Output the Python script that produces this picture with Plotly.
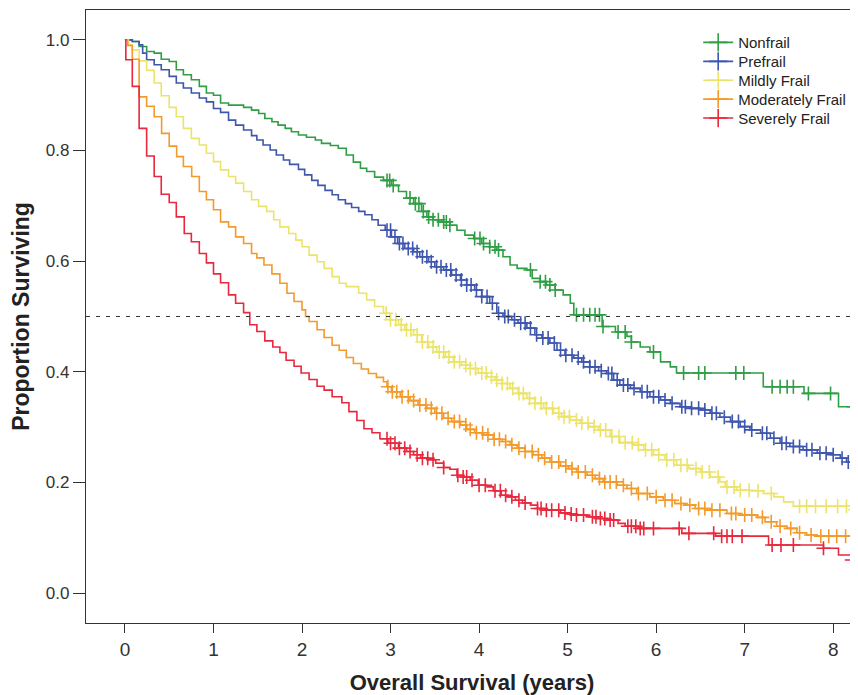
import numpy as np
import plotly.graph_objects as go

# ---------------- data ----------------
groups = ["Nonfrail", "Prefrail", "Mildly Frail", "Moderately Frail", "Severely Frail"]
colors = ["#2f9e44", "#3e56ad", "#ece46a", "#f39a2b", "#e8283c"]

nonfrail_t = [0, 0.083, 0.16, 0.245, 0.33, 0.41, 0.50, 0.58, 0.66, 0.75, 0.84, 0.92, 1.0, 1.08, 1.17, 1.34,
              1.43, 1.51, 1.58, 1.66, 1.73, 1.81, 1.88, 1.96, 2.05, 2.15, 2.22, 2.32, 2.41, 2.50, 2.58, 2.66,
              2.73, 2.82, 2.92, 3.01, 3.09, 3.18, 3.26, 3.35, 3.41, 3.48, 3.58, 3.67, 3.75, 3.84, 3.94, 4.03,
              4.12, 4.20, 4.27, 4.35, 4.43, 4.54, 4.60, 4.69, 4.76, 4.86, 4.95, 5.03, 5.07, 5.39, 5.54, 5.67,
              5.72, 5.82, 5.93, 6.05, 6.16, 6.23, 7.21, 7.67, 8.06, 8.40]
nonfrail_s = [1.0, 0.997, 0.988, 0.979, 0.976, 0.965, 0.961, 0.946, 0.937, 0.928, 0.916, 0.904, 0.900, 0.886,
              0.882, 0.878, 0.873, 0.867, 0.858, 0.852, 0.846, 0.840, 0.834, 0.828, 0.824, 0.819, 0.813, 0.809,
              0.804, 0.792, 0.779, 0.768, 0.762, 0.752, 0.746, 0.737, 0.726, 0.714, 0.704, 0.690, 0.680, 0.675,
              0.671, 0.665, 0.656, 0.647, 0.641, 0.632, 0.626, 0.620, 0.608, 0.593, 0.587, 0.584, 0.569, 0.563,
              0.557, 0.548, 0.539, 0.524, 0.503, 0.482, 0.472, 0.464, 0.454, 0.445, 0.436, 0.418, 0.409, 0.398,
              0.373, 0.361, 0.337, 0.337]
nonfrail_cens = [2.96, 2.99, 3.03, 3.22, 3.28, 3.32, 3.37, 3.43, 3.48, 3.54, 3.60, 3.63, 3.67, 3.95, 4.01, 4.05,
                 4.12, 4.18, 4.22, 4.58, 4.69, 4.75, 4.80, 4.86, 5.10, 5.18, 5.25, 5.31, 5.36, 5.40, 5.57, 5.65,
                 5.72, 5.97, 6.31, 6.48, 6.55, 6.90, 6.99, 7.31, 7.40, 7.48, 7.55, 7.72, 7.97, 8.23]

prefrail_t = [0, 0.083, 0.16, 0.20, 0.245, 0.33, 0.41, 0.50, 0.58, 0.66, 0.75, 0.84, 0.92, 1.0, 1.08, 1.17,
              1.25, 1.34, 1.43, 1.49, 1.56, 1.64, 1.71, 1.79, 1.86, 1.96, 2.03, 2.11, 2.18, 2.26, 2.34, 2.41,
              2.49, 2.56, 2.64, 2.71, 2.79, 2.86, 2.94, 3.01, 3.08, 3.16, 3.26, 3.33, 3.43, 3.50, 3.60, 3.69,
              3.79, 3.86, 3.95, 4.03, 4.12, 4.20, 4.27, 4.37, 4.44, 4.54, 4.63, 4.71, 4.80, 4.88, 4.97, 5.07,
              5.16, 5.25, 5.35, 5.44, 5.52, 5.59, 5.71, 5.82, 5.93, 6.05, 6.16, 6.27, 6.38, 6.50, 6.61, 6.72,
              6.84, 6.95, 7.06, 7.18, 7.29, 7.40, 7.51, 7.66, 7.82, 7.97, 8.08, 8.15, 8.27, 8.40]
prefrail_s = [1.0, 0.997, 0.991, 0.976, 0.964, 0.955, 0.946, 0.934, 0.922, 0.913, 0.904, 0.895, 0.888, 0.876,
              0.869, 0.855, 0.846, 0.837, 0.827, 0.819, 0.810, 0.801, 0.792, 0.783, 0.775, 0.766, 0.756, 0.746,
              0.737, 0.728, 0.720, 0.711, 0.704, 0.697, 0.690, 0.684, 0.675, 0.665, 0.656, 0.644, 0.632, 0.623,
              0.617, 0.608, 0.599, 0.590, 0.584, 0.575, 0.566, 0.557, 0.548, 0.536, 0.524, 0.506, 0.500, 0.494,
              0.488, 0.479, 0.467, 0.461, 0.452, 0.439, 0.430, 0.425, 0.418, 0.409, 0.402, 0.397, 0.385, 0.376,
              0.370, 0.364, 0.355, 0.349, 0.343, 0.337, 0.334, 0.331, 0.325, 0.318, 0.310, 0.301, 0.295, 0.289,
              0.280, 0.271, 0.265, 0.259, 0.253, 0.250, 0.244, 0.237, 0.231, 0.231]
prefrail_cens = [2.96, 3.00, 3.05, 3.10, 3.14, 3.20, 3.25, 3.30, 3.36, 3.41, 3.46, 3.52, 3.57, 3.63, 3.68, 3.74,
                 3.80, 3.86, 3.91, 3.97, 4.03, 4.09, 4.15, 4.22, 4.29, 4.33, 4.40, 4.47, 4.52, 4.58, 4.65, 4.72,
                 4.78, 4.85, 4.92, 4.98, 5.05, 5.12, 5.18, 5.25, 5.31, 5.38, 5.46, 5.50, 5.56, 5.63, 5.68, 5.75,
                 5.84, 5.90, 5.97, 6.03, 6.10, 6.18, 6.29, 6.33, 6.40, 6.48, 6.55, 6.63, 6.68, 6.77, 6.86, 6.93,
                 7.00, 7.08, 7.20, 7.25, 7.33, 7.42, 7.47, 7.55, 7.62, 7.70, 7.76, 7.85, 7.92, 8.00, 8.10, 8.17]

mild_t = [0, 0.04, 0.08, 0.16, 0.245, 0.33, 0.41, 0.50, 0.58, 0.66, 0.75, 0.84, 0.92, 1.0, 1.08, 1.17, 1.25,
          1.34, 1.43, 1.51, 1.60, 1.68, 1.75, 1.85, 1.93, 2.0, 2.08, 2.17, 2.25, 2.34, 2.42, 2.50, 2.64, 2.73,
          2.82, 2.92, 2.99, 3.09, 3.16, 3.26, 3.35, 3.43, 3.52, 3.62, 3.71, 3.80, 3.90, 3.99, 4.09, 4.18, 4.26,
          4.35, 4.44, 4.54, 4.63, 4.73, 4.84, 4.93, 5.03, 5.14, 5.24, 5.35, 5.48, 5.59, 5.74, 5.86, 5.97, 6.10,
          6.23, 6.37, 6.50, 6.61, 6.72, 6.78, 6.91, 7.06, 7.21, 7.33, 7.44, 7.55, 8.23, 8.40]
mild_s = [1.0, 0.990, 0.982, 0.962, 0.945, 0.922, 0.899, 0.878, 0.861, 0.840, 0.822, 0.810, 0.795, 0.780, 0.765,
          0.753, 0.741, 0.726, 0.711, 0.699, 0.690, 0.675, 0.662, 0.650, 0.638, 0.626, 0.611, 0.599, 0.587, 0.572,
          0.560, 0.554, 0.542, 0.530, 0.518, 0.506, 0.494, 0.485, 0.476, 0.467, 0.454, 0.445, 0.436, 0.427, 0.418,
          0.412, 0.406, 0.398, 0.391, 0.385, 0.379, 0.370, 0.361, 0.352, 0.343, 0.334, 0.325, 0.319, 0.313, 0.307,
          0.301, 0.295, 0.283, 0.272, 0.268, 0.259, 0.250, 0.241, 0.231, 0.225, 0.219, 0.210, 0.201, 0.192, 0.186,
          0.185, 0.180, 0.174, 0.165, 0.157, 0.151, 0.151]
mild_cens = [2.95, 3.00, 3.06, 3.12, 3.18, 3.23, 3.30, 3.36, 3.42, 3.48, 3.55, 3.60, 3.66, 3.72, 3.78, 3.85,
             3.90, 3.96, 4.03, 4.08, 4.14, 4.20, 4.26, 4.32, 4.38, 4.45, 4.50, 4.57, 4.63, 4.70, 4.76, 4.83,
             4.90, 4.96, 5.02, 5.10, 5.16, 5.23, 5.30, 5.37, 5.43, 5.50, 5.58, 5.65, 5.73, 5.80, 5.88, 5.95,
             6.03, 6.12, 6.20, 6.28, 6.35, 6.45, 6.52, 6.60, 6.70, 6.80, 6.88, 6.95, 7.05, 7.15, 7.30, 7.62,
             7.70, 7.80, 7.92, 8.05, 8.15, 8.25]

moderate_t = [0, 0.03, 0.083, 0.16, 0.245, 0.33, 0.414, 0.50, 0.584, 0.66, 0.754, 0.84, 0.92, 1.0, 1.08, 1.17,
              1.25, 1.34, 1.43, 1.49, 1.57, 1.66, 1.75, 1.83, 1.91, 2.0, 2.04, 2.08, 2.17, 2.25, 2.34, 2.42,
              2.50, 2.58, 2.67, 2.75, 2.84, 2.92, 2.96, 3.01, 3.11, 3.22, 3.31, 3.41, 3.50, 3.60, 3.69, 3.79,
              3.86, 3.95, 4.05, 4.16, 4.26, 4.35, 4.43, 4.52, 4.61, 4.71, 4.80, 4.92, 5.01, 5.10, 5.22, 5.31,
              5.40, 5.56, 5.67, 5.78, 5.93, 6.08, 6.21, 6.33, 6.44, 6.61, 6.80, 6.95, 7.14, 7.23, 7.36, 7.48,
              7.59, 7.70, 7.82, 8.40]
moderate_s = [1.0, 0.990, 0.965, 0.897, 0.880, 0.861, 0.831, 0.808, 0.789, 0.771, 0.753, 0.726, 0.711, 0.693,
              0.671, 0.662, 0.644, 0.632, 0.614, 0.606, 0.593, 0.577, 0.560, 0.542, 0.527, 0.512, 0.500, 0.491,
              0.476, 0.462, 0.448, 0.439, 0.426, 0.415, 0.405, 0.397, 0.390, 0.382, 0.373, 0.364, 0.355, 0.348,
              0.340, 0.334, 0.325, 0.316, 0.310, 0.304, 0.296, 0.290, 0.286, 0.278, 0.274, 0.268, 0.262, 0.256,
              0.250, 0.244, 0.237, 0.230, 0.225, 0.219, 0.213, 0.207, 0.201, 0.195, 0.189, 0.180, 0.174, 0.168,
              0.162, 0.159, 0.153, 0.150, 0.144, 0.141, 0.137, 0.129, 0.121, 0.117, 0.109, 0.105, 0.103, 0.103]
moderate_cens = [2.97, 3.02, 3.07, 3.13, 3.20, 3.26, 3.33, 3.40, 3.46, 3.52, 3.58, 3.65, 3.72, 3.78, 3.85, 3.90,
                 3.97, 4.04, 4.10, 4.17, 4.23, 4.30, 4.37, 4.45, 4.52, 4.60, 4.67, 4.74, 4.82, 4.90, 4.98, 5.05,
                 5.12, 5.20, 5.28, 5.36, 5.42, 5.48, 5.55, 5.63, 5.72, 5.80, 5.90, 6.00, 6.10, 6.18, 6.28, 6.38,
                 6.48, 6.55, 6.63, 6.72, 6.85, 6.90, 7.00, 7.08, 7.20, 7.30, 7.40, 7.52, 7.62, 7.75, 7.86, 7.95,
                 8.04, 8.14, 8.24]

severe_t = [0, 0.01, 0.083, 0.16, 0.245, 0.33, 0.41, 0.50, 0.58, 0.67, 0.75, 0.84, 0.92, 1.0, 1.08, 1.17, 1.25,
            1.34, 1.41, 1.49, 1.58, 1.67, 1.75, 1.82, 1.91, 1.99, 2.08, 2.17, 2.25, 2.34, 2.45, 2.53, 2.62, 2.70,
            2.79, 2.88, 2.97, 3.09, 3.18, 3.26, 3.34, 3.43, 3.51, 3.60, 3.67, 3.75, 3.82, 3.90, 3.99, 4.09, 4.16,
            4.25, 4.33, 4.41, 4.49, 4.58, 4.66, 4.75, 4.92, 5.00, 5.10, 5.22, 5.33, 5.45, 5.57, 5.65, 5.80, 6.29,
            6.67, 7.27, 7.89, 8.06, 8.21, 8.40]
severe_s = [1.0, 0.964, 0.916, 0.840, 0.790, 0.753, 0.721, 0.706, 0.680, 0.650, 0.635, 0.614, 0.597, 0.577, 0.561,
            0.539, 0.524, 0.507, 0.485, 0.473, 0.456, 0.445, 0.435, 0.421, 0.410, 0.398, 0.386, 0.374, 0.367, 0.355,
            0.344, 0.328, 0.312, 0.297, 0.290, 0.279, 0.271, 0.262, 0.256, 0.250, 0.244, 0.241, 0.235, 0.227, 0.224,
            0.213, 0.210, 0.204, 0.195, 0.192, 0.185, 0.177, 0.174, 0.168, 0.163, 0.159, 0.153, 0.150, 0.145, 0.143,
            0.141, 0.138, 0.135, 0.132, 0.126, 0.121, 0.117, 0.108, 0.103, 0.087, 0.081, 0.069, 0.060, 0.060]
severe_cens = [2.96, 3.00, 3.05, 3.10, 3.16, 3.22, 3.30, 3.36, 3.42, 3.48, 3.60, 3.76, 3.82, 3.86, 3.92, 4.00,
               4.07, 4.18, 4.24, 4.30, 4.37, 4.45, 4.52, 4.66, 4.70, 4.76, 4.82, 4.90, 4.97, 5.04, 5.10, 5.18,
               5.28, 5.32, 5.37, 5.42, 5.48, 5.52, 5.68, 5.72, 5.77, 5.82, 5.86, 5.97, 6.26, 6.37, 6.65, 6.74,
               6.80, 6.86, 6.97, 7.31, 7.41, 7.55, 7.89, 8.21]

x_ticks = [0, 1, 2, 3, 4, 5, 6, 7, 8]
y_ticks = [0.0, 0.2, 0.4, 0.6, 0.8, 1.0]

series = [
    (nonfrail_t, nonfrail_s, nonfrail_cens),
    (prefrail_t, prefrail_s, prefrail_cens),
    (mild_t, mild_s, mild_cens),
    (moderate_t, moderate_s, moderate_cens),
    (severe_t, severe_s, severe_cens),
]

# ---------------- figure ----------------
fig = go.Figure()
legend_ids = ["legend", "legend2", "legend3", "legend4", "legend5"]

for i, (name, color, (t, s, c)) in enumerate(zip(groups, colors, series)):
    t_arr = np.array(t)
    s_arr = np.array(s)
    c_arr = np.array(c)
    idx = np.searchsorted(t_arr, c_arr, side="right") - 1
    c_y = s_arr[idx]
    fig.add_trace(go.Scatter(x=t, y=s, mode="lines", line=dict(color=color, width=1.6, shape="hv"),
                             showlegend=False, hoverinfo="skip"))
    fig.add_trace(go.Scatter(x=c_arr, y=c_y, mode="markers",
                             marker=dict(symbol="cross-thin", size=10, color=color,
                                         line=dict(color=color, width=1.6)),
                             showlegend=False))
    fig.add_trace(go.Scatter(x=[None], y=[None], mode="lines+markers", name=name, legend=legend_ids[i],
                             line=dict(color=color, width=1.6),
                             marker=dict(symbol="cross-thin", size=13, color=color,
                                         line=dict(color=color, width=1.6))))

fig.add_shape(type="line", xref="paper", x0=0, x1=1, yref="y", y0=0.5, y1=0.5,
              line=dict(color="#333333", width=1.2, dash="4px,6px"))

axis_col = "#333333"
legend_y = [0.9467, 0.9158, 0.8850, 0.8542, 0.8233]
legend_layouts = {}
for lid, ly in zip(legend_ids, legend_y):
    legend_layouts[lid] = dict(x=0.793, y=ly, xanchor="left", yanchor="middle", bgcolor="rgba(0,0,0,0)",
                               font=dict(size=15, color="#222222"), itemwidth=30)

fig.update_layout(
    width=850, height=687,
    margin=dict(l=78, r=0, t=2, b=72),
    plot_bgcolor="white", paper_bgcolor="white",
    font=dict(family="Liberation Sans, Arial, sans-serif", color="#222222"),
    xaxis=dict(range=[-0.44, 8.28], tickvals=x_ticks, ticks="outside", ticklen=9, tickwidth=1.3,
               tickcolor=axis_col, showline=True, linecolor=axis_col, linewidth=1.3, mirror=True,
               showgrid=False, zeroline=False, automargin=False,
               tickfont=dict(size=19, color="#333333"),
               title=dict(text="<b>Overall Survival (years)</b>", font=dict(size=22, color="#222222"),
                          standoff=16)),
    yaxis=dict(range=[-0.054, 1.054], tickvals=y_ticks, tickformat=".1f", ticks="outside", ticklen=12,
               tickwidth=1.3, tickcolor=axis_col, showline=True, linecolor=axis_col, linewidth=1.3,
               mirror=False, showgrid=False, zeroline=False, automargin=False,
               tickfont=dict(size=17, color="#333333"),
               title=dict(text="<b>Proportion Surviving</b>", font=dict(size=23, color="#222222"),
                          standoff=12)),
    **legend_layouts,
)

fig.write_html("out.html")
